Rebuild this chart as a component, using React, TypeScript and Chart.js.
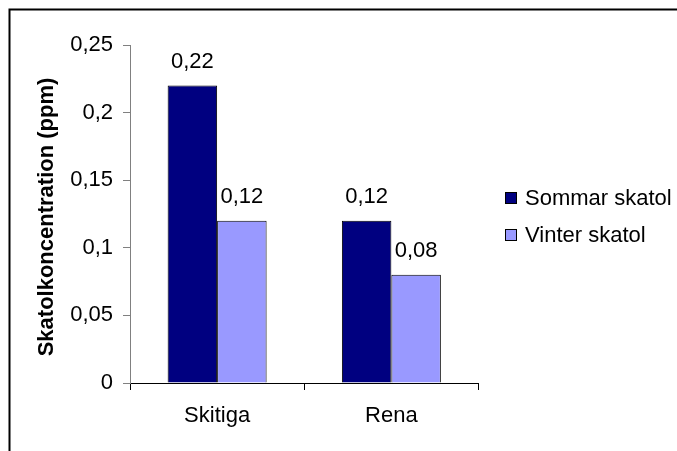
import React, { useEffect, useRef } from "react";
import { Chart, registerables } from "chart.js";

Chart.register(...registerables);

const categories = ["Skitiga", "Rena"];
const seriesNames = ["Sommar skatol", "Vinter skatol"];
const sommarValues = [0.22, 0.12];
const vinterValues = [0.12, 0.08];
const yTickLabels = ["0", "0,05", "0,1", "0,15", "0,2", "0,25"];
const yTitle = "Skatolkoncentration (ppm)";
const colors = ["#000080", "#9999FF"];

const FONT = '"Liberation Sans", Arial, sans-serif';

const fmt = (v: number) => String(+v.toFixed(2)).replace(".", ",");

const decorPlugin = {
  id: "decor",
  afterDraw(chart: any) {
    const ctx = chart.ctx;
    ctx.save();
    // outer chart border
    ctx.strokeStyle = "#000";
    ctx.lineWidth = 2;
    ctx.strokeRect(9.5, 9.5, 800, 600);

    // data labels
    ctx.fillStyle = "#000";
    ctx.font = `22px ${FONT}`;
    ctx.textAlign = "center";
    ctx.textBaseline = "middle";
    chart.data.datasets.forEach((ds: any, di: number) => {
      const meta = chart.getDatasetMeta(di);
      meta.data.forEach((bar: any, i: number) => {
        ctx.fillText(fmt(ds.data[i]), bar.x, bar.y - 24);
      });
    });

    // y title
    ctx.save();
    ctx.translate(47, 217);
    ctx.rotate(-Math.PI / 2);
    ctx.font = `bold 22px ${FONT}`;
    ctx.textAlign = "center";
    ctx.textBaseline = "middle";
    ctx.fillText(yTitle, 0, 0);
    ctx.restore();

    // legend
    const ys = [198, 235];
    seriesNames.forEach((name, i) => {
      ctx.fillStyle = colors[i];
      ctx.fillRect(505, ys[i] - 6, 12, 12);
      ctx.strokeStyle = "#000";
      ctx.lineWidth = 1;
      ctx.strokeRect(505.5, ys[i] - 5.5, 11, 11);
      ctx.fillStyle = "#000";
      ctx.font = `22px ${FONT}`;
      ctx.textAlign = "left";
      ctx.textBaseline = "middle";
      ctx.fillText(name, 525, ys[i] + 1);
    });
    ctx.restore();
  },
};

export default function App() {
  const ref = useRef<HTMLCanvasElement | null>(null);
  useEffect(() => {
    if (!ref.current) return;
    const chart = new Chart(ref.current, {
      type: "bar",
      data: {
        labels: categories,
        datasets: [
          {
            label: seriesNames[0],
            data: sommarValues,
            backgroundColor: colors[0],
            borderColor: "#000",
            borderWidth: 1,
            categoryPercentage: 0.568,
            barPercentage: 1,
          },
          {
            label: seriesNames[1],
            data: vinterValues,
            backgroundColor: colors[1],
            borderColor: "#000",
            borderWidth: 1,
            categoryPercentage: 0.568,
            barPercentage: 1,
          },
        ],
      },
      options: {
        animation: false,
        responsive: false,
        devicePixelRatio: 1,
        layout: { padding: { left: 0, top: 45, right: 198.5, bottom: 0 } },
        plugins: {
          legend: { display: false },
          tooltip: { enabled: false },
        },
        scales: {
          x: {
            grid: {
              display: true,
              offset: true,
              drawOnChartArea: false,
              drawTicks: true,
              tickLength: 7,
              color: "#000",
            },
            border: { display: true, color: "#000", width: 1 },
            ticks: {
              color: "#000",
              font: { family: FONT, size: 22 },
              padding: 13,
              maxRotation: 0,
            },
            afterFit(scale: any) {
              scale.height = 68;
            },
          },
          y: {
            min: 0,
            max: 0.25,
            grid: {
              display: true,
              drawOnChartArea: false,
              drawTicks: true,
              tickLength: 7,
              color: "#808080",
            },
            border: { display: true, color: "#808080", width: 1 },
            ticks: {
              stepSize: 0.05,
              color: "#000",
              font: { family: FONT, size: 22 },
              padding: 10,
              callback: (_v: any, i: number) => yTickLabels[i],
            },
            afterFit(scale: any) {
              scale.width = 130;
            },
          },
        },
      },
      plugins: [decorPlugin],
    } as any);
    return () => chart.destroy();
  }, []);
  return (
    <div
      style={{
        position: "fixed",
        left: 0,
        top: 0,
        width: 677,
        height: 451,
        background: "#fff",
        overflow: "hidden",
      }}
    >
      <canvas ref={ref} width={677} height={451} style={{ display: "block", width: 677, height: 451 }} />
    </div>
  );
}
